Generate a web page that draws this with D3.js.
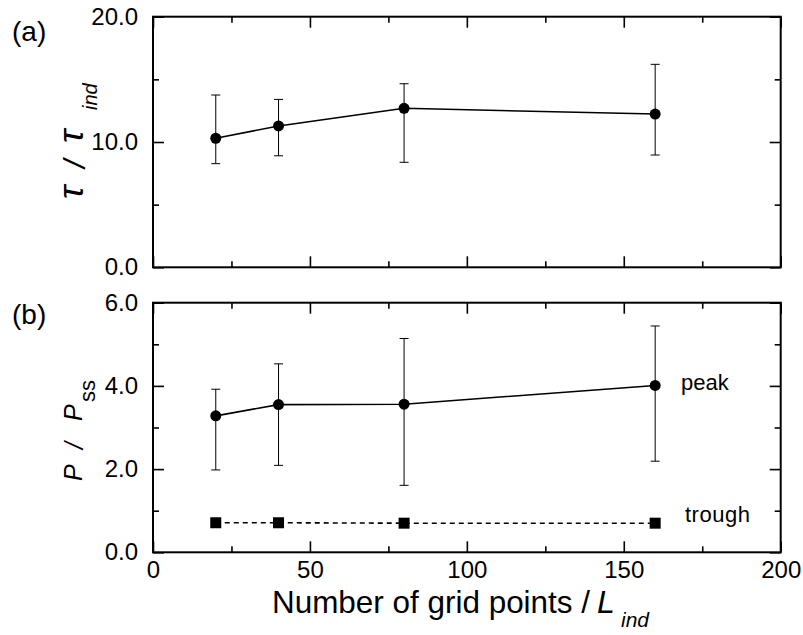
<!DOCTYPE html>
<html>
<head>
<meta charset="utf-8">
<script src="https://cdn.jsdelivr.net/npm/d3@7"></script>
<style>
  html, body { margin: 0; padding: 0; background: #fff; }
  svg { display: block; }
  text { font-family: "Liberation Sans", Arial, sans-serif; fill: #000; }
</style>
</head>
<body>
<svg id="chart" width="803" height="635"></svg>
<script>
// ---- data ----
const gridPoints = [20, 40, 80, 160];
const tauMean = [10.3, 11.28, 12.69, 12.23];
const tauLow  = [8.27, 8.9, 8.38, 8.96];
const tauHigh = [13.75, 13.4, 14.65, 16.2];
const peakMean = [3.28, 3.55, 3.56, 4.01];
const peakLow  = [1.98, 2.09, 1.61, 2.19];
const peakHigh = [3.92, 4.53, 5.14, 5.44];
const troughMean = [0.71, 0.71, 0.70, 0.70];
const xTicks = [0, 50, 100, 150, 200];
const tauTicks = [0, 10, 20];
const pTicks = [0, 2, 4, 6];

const svg = d3.select("#chart");
const L = 153, R = 780.7;
const x = d3.scaleLinear([0, 200], [L, R]);
const yA = d3.scaleLinear([0, 20], [267.3, 16.7]);
const yB = d3.scaleLinear([0, 6], [552.3, 302.7]);

const fmt = d3.format(".1f");
const TICK_FS = 24;

function frame(y, yTicksMajor, yMinor, showX) {
  const g = svg.append("g");
  const [y0, y1] = y.range();
  const xMinor = d3.range(25, 200, 50);
  const addAxis = (axis, tr) => {
    const a = g.append("g").attr("transform", tr).call(axis);
    a.select(".domain").remove();
    a.selectAll(".tick line").attr("stroke", "#000").attr("stroke-width", 1.6);
    return a;
  };
  addAxis(d3.axisBottom(x).tickValues(xTicks).tickSize(-11).tickPadding(9).tickFormat(showX ? d3.format("d") : () => ""), `translate(0,${y0})`);
  addAxis(d3.axisBottom(x).tickValues(xMinor).tickSize(-6).tickFormat(() => ""), `translate(0,${y0})`);
  addAxis(d3.axisTop(x).tickValues(xTicks).tickSize(-11).tickFormat(() => ""), `translate(0,${y1})`);
  addAxis(d3.axisTop(x).tickValues(xMinor).tickSize(-6).tickFormat(() => ""), `translate(0,${y1})`);
  addAxis(d3.axisLeft(y).tickValues(yTicksMajor).tickSize(-11).tickPadding(15).tickFormat(fmt), `translate(${L},0)`);
  addAxis(d3.axisLeft(y).tickValues(yMinor).tickSize(-6).tickFormat(() => ""), `translate(${L},0)`);
  addAxis(d3.axisRight(y).tickValues(yTicksMajor).tickSize(-11).tickFormat(() => ""), `translate(${R},0)`);
  addAxis(d3.axisRight(y).tickValues(yMinor).tickSize(-6).tickFormat(() => ""), `translate(${R},0)`);
  g.selectAll("g").attr("font-family", null).attr("font-size", null);
  g.selectAll(".tick text").attr("font-size", TICK_FS);
  g.append("rect").attr("x", L).attr("y", y1).attr("width", R - L).attr("height", y0 - y1)
    .attr("fill", "none").attr("stroke", "#000").attr("stroke-width", 2);
  return g;
}

frame(yA, tauTicks, [5, 15], false);
frame(yB, pTicks, [1, 3, 5], true);

function series(y, mean, low, high, shape, dashed) {
  const pts = gridPoints.map((g, i) => ({ g, m: mean[i], lo: low ? low[i] : null, hi: high ? high[i] : null }));
  const g = svg.append("g");
  if (low) {
    pts.forEach(p => {
      g.append("line").attr("x1", x(p.g)).attr("x2", x(p.g)).attr("y1", y(p.lo)).attr("y2", y(p.hi))
        .attr("stroke", "#000").attr("stroke-width", 1);
      [p.lo, p.hi].forEach(v => g.append("line").attr("x1", x(p.g) - 4.5).attr("x2", x(p.g) + 4.5)
        .attr("y1", y(v)).attr("y2", y(v)).attr("stroke", "#000").attr("stroke-width", 1));
    });
  }
  g.append("path").datum(pts)
    .attr("d", d3.line().x(p => x(p.g)).y(p => y(p.m)))
    .attr("fill", "none").attr("stroke", "#000").attr("stroke-width", 1.6)
    .attr("stroke-dasharray", dashed ? "5,4" : null);
  if (shape === "circle") {
    g.selectAll("circle").data(pts).join("circle")
      .attr("cx", p => x(p.g)).attr("cy", p => y(p.m)).attr("r", 5.5).attr("fill", "#000");
  } else {
    g.selectAll("rect").data(pts).join("rect")
      .attr("x", p => x(p.g) - 5.5).attr("y", p => y(p.m) - 5.5).attr("width", 11).attr("height", 11).attr("fill", "#000");
  }
}

series(yA, tauMean, tauLow, tauHigh, "circle", false);
series(yB, peakMean, peakLow, peakHigh, "circle", false);
series(yB, troughMean, null, null, "square", true);

// panel labels
svg.append("text").attr("x", 12).attr("y", 41).attr("font-size", 28).text("(a)");
svg.append("text").attr("x", 12).attr("y", 324).attr("font-size", 28).text("(b)");

// series labels
svg.append("text").attr("x", 681).attr("y", 390).attr("font-size", 22).text("peak");
svg.append("text").attr("x", 685).attr("y", 522).attr("font-size", 22).attr("letter-spacing", 0.5).text("trough");

// y label (a): τ / τ_ind, rotated
const ga = svg.append("g").attr("transform", "translate(83,0) rotate(-90)");
ga.append("text").attr("x", -199).attr("font-family", "Liberation Serif").attr("font-style", "italic").attr("font-size", 36).text("τ");
ga.append("text").attr("x", -168).attr("y", 2).attr("font-style", "italic").attr("font-size", 30).text("/");
ga.append("text").attr("x", -143).attr("font-family", "Liberation Serif").attr("font-style", "italic").attr("font-size", 36).text("τ");
ga.append("text").attr("x", -110).attr("y", 14).attr("font-style", "italic").attr("font-size", 20).text("ind");

// y label (b): P / P_ss, rotated
const gb = svg.append("g").attr("transform", "translate(82,0) rotate(-90)");
gb.append("text").attr("x", -481).attr("font-style", "italic").attr("font-size", 25).text("P");
gb.append("text").attr("x", -449).attr("y", 1).attr("font-style", "italic").attr("font-size", 25).text("/");
gb.append("text").attr("x", -421).attr("font-style", "italic").attr("font-size", 25).text("P");
gb.append("text").attr("x", -402).attr("y", 13).attr("font-size", 22).text("ss");

// x label
svg.append("text").attr("x", 272).attr("y", 613).attr("font-size", 32)
  .attr("textLength", 318).attr("lengthAdjust", "spacingAndGlyphs").text("Number of grid points /");
svg.append("text").attr("x", 597).attr("y", 613).attr("font-style", "italic").attr("font-size", 32).text("L");
svg.append("text").attr("x", 621).attr("y", 627).attr("font-style", "italic").attr("font-size", 21).text("ind");
</script>
</body>
</html>
